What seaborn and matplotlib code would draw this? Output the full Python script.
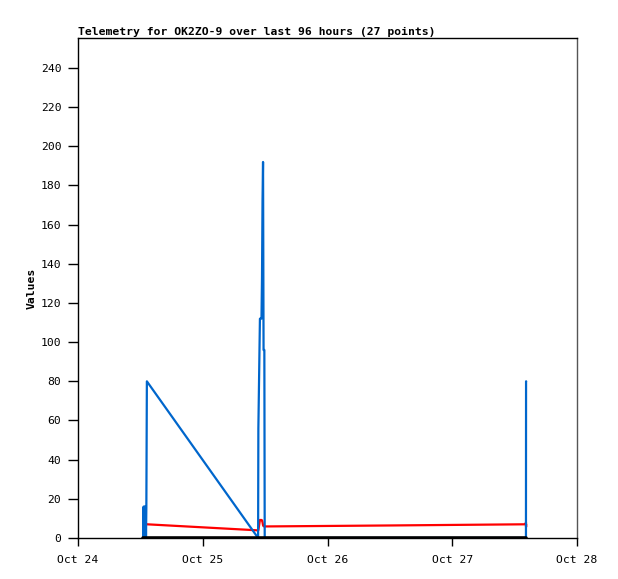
import pandas as pd
import seaborn as sns
import matplotlib.pyplot as plt
import matplotlib.dates as mdates

# hours since Oct 24 00:00 for each telemetry sample
hours = [12.55, 12.62, 12.68, 12.75, 12.82, 12.88, 12.95, 13.02, 13.08, 13.15,
         13.25, 34.65, 34.70, 35.00, 35.30, 35.40, 35.50, 35.60, 35.70, 35.85,
         35.92, 60.00, 86.10, 86.15, 86.18, 86.20, 86.22]
blue_vals = [0, 16, 0, 16, 0, 16, 0, 16, 0, 16,
             80, 0, 56, 112, 112, 133, 172, 192, 96, 96,
             0, 0, 0, 0, 0, 80, 80]
red_vals = [7.0, 7.0, 7.0, 7.0, 7.0, 7.0, 7.0, 7.0, 7.0, 7.0,
            7.0, 3.9, 4.0, 9.2, 9.2, 9.0, 8.0, 6.5, 6.0, 5.9,
            5.9, 6.4, 7.0, 7.0, 8.0, 5.6, 7.0]
black_vals = [0] * len(hours)

start = pd.Timestamp("2023-10-24")
times = [start + pd.Timedelta(hours=h) for h in hours]
df = pd.DataFrame({"time": times, "blue": blue_vals, "red": red_vals, "black": black_vals})

sns.set_style("ticks")
plt.rcParams['font.family'] = ['DejaVu Sans Mono']
plt.rcParams['text.color'] = 'black'
plt.rcParams['axes.labelcolor'] = 'black'

fig = plt.figure(figsize=(6.18, 5.79), dpi=100)
ax = fig.add_axes([78 / 618, 1 - 538 / 579, (577 - 78) / 618, (538 - 38) / 579])

# draw the series
sns.lineplot(data=df, x="time", y="red", color="#ff0000", linewidth=1.6,
             estimator=None, sort=False, ax=ax)
sns.lineplot(data=df, x="time", y="blue", color="#0066cc", linewidth=1.6,
             estimator=None, sort=False, ax=ax)
sns.lineplot(data=df, x="time", y="black", color="black", linewidth=2.6,
             estimator=None, sort=False, ax=ax)

# axes limits and ticks
ax.set_xlim(start, start + pd.Timedelta(hours=96))
ax.set_ylim(0, 255.3)
ax.set_yticks(range(0, 241, 20))
ax.xaxis.set_major_locator(mdates.DayLocator())
ax.xaxis.set_major_formatter(mdates.DateFormatter("%b %d"))
ax.tick_params(axis='y', direction='out', length=7, width=1, pad=5, labelsize=8.2, colors='black')
ax.tick_params(axis='x', direction='out', length=6, width=1, pad=6, labelsize=8.2, colors='black')

for side in ["left", "bottom", "top"]:
    ax.spines[side].set_visible(True)
    ax.spines[side].set_color("black")
    ax.spines[side].set_linewidth(1)
ax.spines["right"].set_visible(True)
ax.spines["right"].set_color("#555555")
ax.spines["right"].set_linewidth(1)

ax.set_xlabel("")
ax.set_ylabel("Values", fontsize=8.2, fontweight='bold', labelpad=3, color='black')
ax.set_title("Telemetry for OK2ZO-9 over last 96 hours (27 points)", loc='left',
             fontsize=8.2, fontweight='bold', pad=2, color='black')

fig.savefig("out.png", dpi=100, facecolor='white')
